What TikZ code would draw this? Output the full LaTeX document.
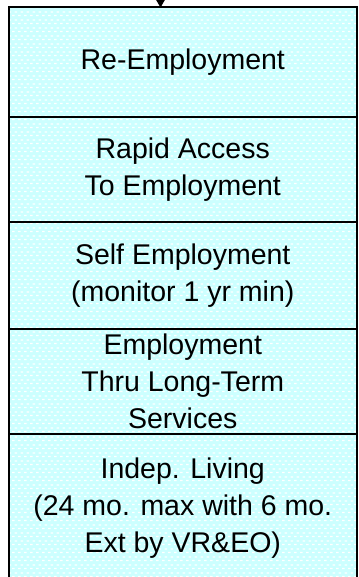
\documentclass[tikz,border=0pt]{standalone}
\usepackage{fontspec}
\setmainfont{Liberation Sans}
\usepackage[rgb]{xcolor}
\usetikzlibrary{arrows.meta, patterns, positioning}

\definecolor{paleCyan}{HTML}{CCFFFF}

% small white dashes on the cyan ground
\pgfdeclarepatternformonly{whitedash}{\pgfqpoint{0pt}{0pt}}{\pgfqpoint{6pt}{8pt}}{\pgfqpoint{6pt}{8pt}}{
    \pgfpathrectangle{\pgfqpoint{0pt}{1pt}}{\pgfqpoint{3pt}{1.3pt}}
    \pgfpathrectangle{\pgfqpoint{3pt}{5pt}}{\pgfqpoint{3pt}{1.3pt}}
    \pgfusepath{fill}
}

\tikzset{
    stage/.style={draw=black, line width=2pt, outer sep=0pt, inner sep=0pt,
        preaction={fill=paleCyan}, pattern=whitedash, pattern color=white,
        minimum width=348.5pt, align=center, font=\fontsize{28.5}{37}\selectfont}
}

\begin{document}
\begin{tikzpicture}[x=1pt, y=-1pt]
        \useasboundingbox (0, 0) rectangle (358, 577);

        \node (reemp) at (182.75, 62.25)[stage, minimum height=109.5pt] {Re-Employment};

        \node (rapid) [stage, minimum height=104.5pt, below=0pt of reemp] {Rapid Access\\To Employment};

        \node (self) [stage, minimum height=107.5pt, below=0pt of rapid] {Self Employment\\(monitor 1 yr min)};

        \node (longterm) [stage, minimum height=105pt, below=0pt of self] {Employment\\Thru Long-Term\\Services};

        \node (indep) [stage, minimum height=148pt, below=0pt of longterm] {Indep. Living\\(24 mo. max with 6 mo.\\Ext by VR\&EO)};

        \coordinate (feed) at (160.5, -20);

        \draw[line width=1pt, -{Triangle[width=9pt, length=8pt]}] (feed) -- (reemp.north -| feed);
    \end{tikzpicture}
\end{document}
